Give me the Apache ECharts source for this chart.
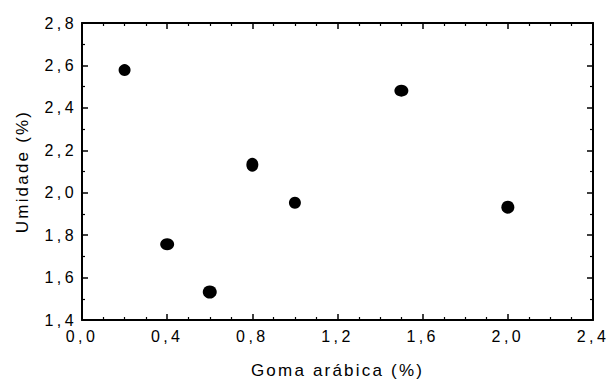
<!DOCTYPE html>
<html>
<head>
<meta charset="utf-8">
<script src="https://cdn.jsdelivr.net/npm/echarts@6/dist/echarts.min.js"></script>
<style>
  html, body { margin: 0; padding: 0; background: #fff; }
  #chart { width: 610px; height: 381px; }
  /* Origin-style wide tracking on all labels */
  #chart svg text { letter-spacing: 3.4px; }
  #chart svg text.axis-name { letter-spacing: 2.2px; }
</style>
</head>
<body>
<div id="chart"></div>
<script>
// Goma arábica (%) vs Umidade (%)
var gomaArabica = [0.2, 0.4, 0.6, 0.8, 1.0, 1.5, 2.0];
var umidade = [2.578, 1.757, 1.532, 2.132, 1.953, 2.481, 1.932];

var xTicks = { min: 0, max: 2.4, step: 0.4 };
var yTicks = { min: 1.4, max: 2.8, step: 0.2 };

// marker footprint (w, h) per point; a few look slightly stretched in the source
var markerSize = [[12, 12], [14, 12], [14, 13], [12, 14], [12, 12], [14, 12], [13, 13]];

var FONT = 'Liberation Sans, Arial, sans-serif';

function comma(v) {
    return v.toFixed(1).replace('.', ',');
}

var points = gomaArabica.map(function (x, i) { return [x, umidade[i]]; });

function axisBase(extra) {
    var base = {
        type: 'value',
        axisLine: { show: true, onZero: false, lineStyle: { color: '#000', width: 2 } },
        axisTick: { show: true, inside: true, length: 6, lineStyle: { color: '#000', width: 1.5 } },
        splitLine: { show: false },
        minorSplitLine: { show: false }
    };
    for (var k in extra) base[k] = extra[k];
    return base;
}

var chart = echarts.init(document.getElementById('chart'), null, { renderer: 'svg' });
chart.setOption({
    animation: false,
    backgroundColor: '#fff',
    grid: { left: 82, right: 17, top: 23, bottom: 61, containLabel: false, outerBoundsMode: 'none' },
    xAxis: [
        axisBase({
            position: 'bottom',
            min: xTicks.min, max: xTicks.max, interval: xTicks.step,
            minorTick: { show: true, splitNumber: 4, length: 3, lineStyle: { color: '#000', width: 1.2 } },
            name: 'Goma arábica (%)',
            nameLocation: 'middle',
            nameGap: 42,
            nameTextStyle: { color: '#000', fontSize: 17, fontFamily: FONT },
            axisLabel: { color: '#000', fontSize: 16, fontFamily: FONT, margin: 8, formatter: comma }
        }),
        axisBase({
            position: 'top',
            min: xTicks.min, max: xTicks.max, interval: xTicks.step,
            minorTick: { show: true, splitNumber: 4, length: 3, lineStyle: { color: '#000', width: 1.2 } },
            axisLabel: { show: false }
        })
    ],
    yAxis: [
        axisBase({
            position: 'left',
            min: yTicks.min, max: yTicks.max, interval: yTicks.step,
            minorTick: { show: true, splitNumber: 2, length: 3, lineStyle: { color: '#000', width: 1.2 } },
            name: 'Umidade (%)',
            nameLocation: 'middle',
            nameGap: 51,
            nameTextStyle: { color: '#000', fontSize: 17, fontFamily: FONT },
            axisLabel: { color: '#000', fontSize: 16, fontFamily: FONT, margin: 5, formatter: comma }
        }),
        axisBase({
            position: 'right',
            min: yTicks.min, max: yTicks.max, interval: yTicks.step,
            minorTick: { show: true, splitNumber: 2, length: 3, lineStyle: { color: '#000', width: 1.2 } },
            axisLabel: { show: false }
        })
    ],
    series: [{
        type: 'scatter',
        xAxisIndex: 0,
        yAxisIndex: 0,
        data: points,
        symbol: 'circle',
        symbolSize: function (val, params) { return markerSize[params.dataIndex]; },
        itemStyle: { color: '#000', opacity: 1 }
    }]
});

// tag the two axis titles so they get their own tracking
var names = ['Goma arábica (%)', 'Umidade (%)'];
document.querySelectorAll('#chart svg text').forEach(function (t) {
    if (names.indexOf(t.textContent) >= 0) t.classList.add('axis-name');
});
</script>
</body>
</html>
